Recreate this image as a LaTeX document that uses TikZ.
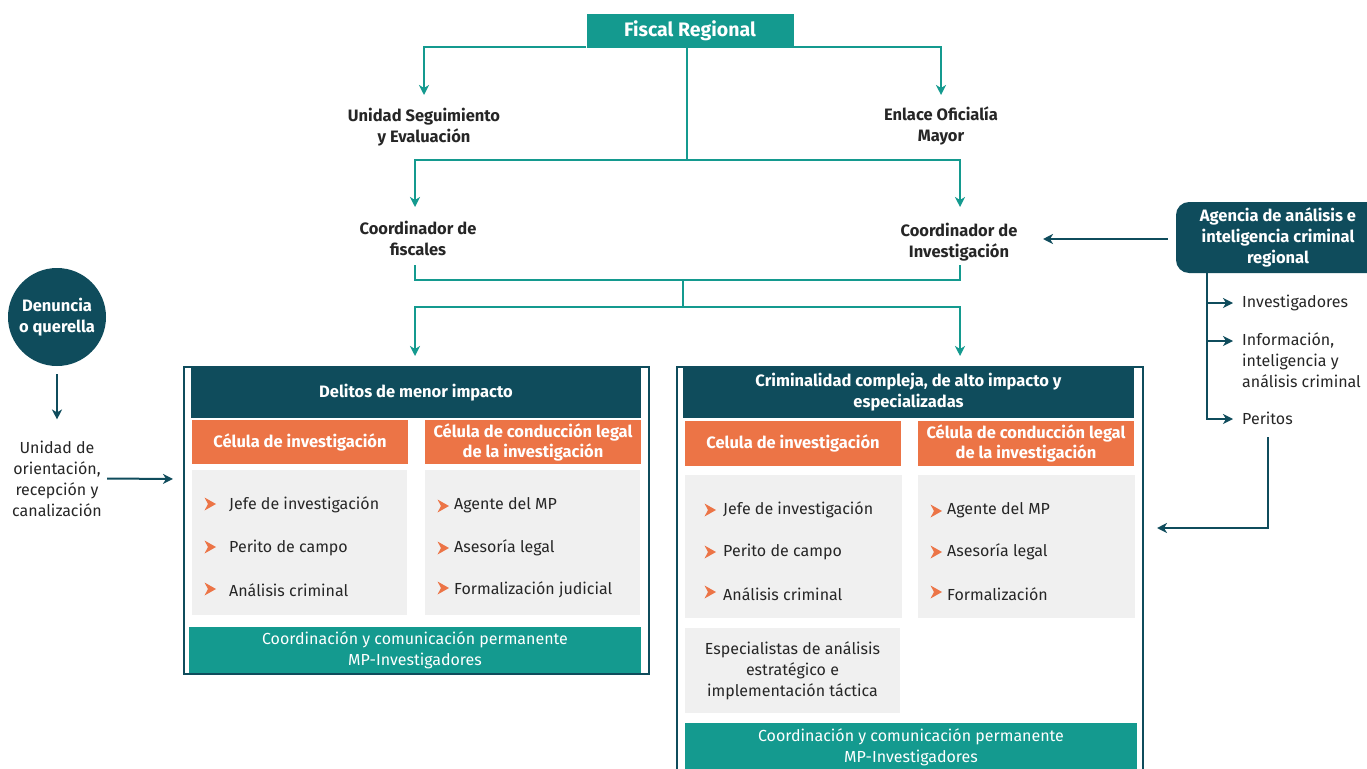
\documentclass[tikz,border=0pt]{standalone}
\usepackage{fontspec}
\setmainfont{Fira Sans}
\usetikzlibrary{arrows.meta,calc}
\definecolor{dteal}{HTML}{0F4C5C}
\definecolor{tealc}{HTML}{149A8F}
\definecolor{orangec}{HTML}{EC7446}
\definecolor{grayp}{HTML}{F0F0F0}
\definecolor{txt}{HTML}{262626}
\begin{document}
\begin{tikzpicture}[x=1pt,y=-1pt,
  lbl/.style={font=\bfseries\fontsize{16.5}{21}\selectfont, align=center, text=txt, inner sep=0pt},
  reg/.style={font=\fontsize{16}{21}\selectfont, text=txt, inner sep=0pt},
  conn/.style={draw=tealc, line width=2pt},
  arr/.style={conn, -{Stealth[length=10pt,width=10pt,inset=3pt]}},
  darr/.style={draw=dteal, line width=2pt, -{Stealth[length=10pt,width=10pt,inset=3pt]}},
  dline/.style={draw=dteal, line width=2pt},
  titlebar/.style={fill=dteal, text=white, font=\bfseries\fontsize{16.5}{21}\selectfont, align=center, inner sep=0pt},
  orangebox/.style={fill=orangec, text=white, font=\bfseries\fontsize{16.5}{20}\selectfont, align=center, inner sep=0pt, minimum width=216pt, minimum height=44pt},
  graypanel/.style={fill=grayp, inner sep=0pt},
  tealbar/.style={fill=tealc, text=white, font=\fontsize{16}{21}\selectfont, align=center, inner sep=0pt},
  bulletpic/.pic={\fill[orangec] (-5.5,-6.5) -- (6,0) -- (-5.5,6.5) -- (-2,0) -- cycle;}
]
\useasboundingbox (0,0) rectangle (1367,768);
\fill[white] (0,0) rectangle (1367,768);

% ---------- top tree ----------
\node[fill=tealc, text=white, font=\bfseries\fontsize{19.5}{22}\selectfont, minimum width=207pt, minimum height=34pt, inner sep=0pt] (fr) at (690,31) {Fiscal Regional};
\node[lbl] (use) at (424,127.5) {Unidad Seguimiento\\y Evaluación};
\node[lbl] (eom) at (941,125.5) {Enlace Oficialía\\Mayor};
\coordinate (j1) at (687,160);
\node[lbl] (cf) at (418,238.5) {Coordinador de\\fiscales};
\node[lbl] (ci) at (959,242) {Coordinador de\\Investigación};
\coordinate (j2) at (683,280);
\coordinate (j3) at (683,307);

\draw[arr] ($(fr.south west)+(0,-1)$) -| (424,95);
\draw[arr] ($(fr.south east)+(0,-1)$) -| (941,95);
\draw[conn] (fr.south -| j1) -- (j1);
\draw[conn] (415,160) -- (960,160);
\draw[arr] (415,159) -- (415,207);
\draw[arr] (960,159) -- (960,207);
\draw[conn] (415,265) |- (j2) -| (960,265);
\draw[conn] (j2) -- (j3);
\draw[conn] (415,307) -- (960,307);
\draw[arr] (415,306) -- (415,356);
\draw[arr] (960,306) -- (960,356);

% ---------- left box ----------
\draw[dteal, line width=2pt] (184,367) rectangle (649,674);
\node[titlebar, minimum width=450pt, minimum height=50pt] (t1) at (416,392.5) {Delitos de menor impacto};
\node[orangebox] (o11) at (300,442) {Célula de investigación};
\node[orangebox] (o12) at (533,442) {Célula de conducción legal\\de la investigación};
\node[graypanel, minimum width=215pt, minimum height=145pt] (g11) at (299.5,542.5) {};
\node[graypanel, minimum width=215pt, minimum height=145pt] (g12) at (532.5,542.5) {};
\node[tealbar, minimum width=452pt, minimum height=46pt] (b1) at (415,650) {Coordinación y comunicación permanente\\MP-Investigadores};

\pic at (210,504) {bulletpic};
\pic at (210,547) {bulletpic};
\pic at (210,589) {bulletpic};
\node[reg, anchor=west] (l1) at (229,505) {Jefe de investigación};
\node[reg, anchor=west] (l2) at (229,548) {Perito de campo};
\node[reg, anchor=west] (l3) at (229,590) {Análisis criminal};
\pic at (443,506) {bulletpic};
\pic at (443,548) {bulletpic};
\pic at (443,588) {bulletpic};
\node[reg, anchor=west] (r1) at (454,505) {Agente del MP};
\node[reg, anchor=west] (r2) at (454,548) {Asesoría legal};
\node[reg, anchor=west] (r3) at (454,590) {Formalización judicial};

% ---------- right box ----------
\draw[dteal, line width=2pt] (677,367) rectangle (1143,790);
\node[titlebar, minimum width=451pt, minimum height=51pt] (t2) at (908.5,392.5) {Criminalidad compleja, de alto impacto y\\especializadas};
\node[orangebox, minimum height=45pt] (o21) at (793,443.5) {Celula de investigación};
\node[orangebox, minimum height=45pt] (o22) at (1026,443.5) {Célula de conducción legal\\de la investigación};
\node[graypanel, minimum width=217pt, minimum height=143pt] (g21) at (793.5,546.5) {};
\node[graypanel, minimum width=217pt, minimum height=143pt] (g22) at (1026.5,546.5) {};
\node[graypanel, minimum width=215pt, minimum height=85pt, text=txt, font=\fontsize{16}{21}\selectfont, align=center] (sp) at (792.5,670.5) {Especialistas de análisis\\estratégico e\\implementación táctica};
\fill[tealc] (685,723) rectangle (1137,790);
\node[tealbar] (b2) at (911,747.5) {Coordinación y comunicación permanente\\MP-Investigadores};

\pic at (710,510) {bulletpic};
\pic at (710,552) {bulletpic};
\pic at (710,592) {bulletpic};
\node[reg, anchor=west] (l4) at (723,510) {Jefe de investigación};
\node[reg, anchor=west] (l5) at (723,552) {Perito de campo};
\node[reg, anchor=west] (l6) at (723,594) {Análisis criminal};
\pic at (936,511) {bulletpic};
\pic at (936,552) {bulletpic};
\pic at (936,592) {bulletpic};
\node[reg, anchor=west] (r4) at (947,510) {Agente del MP};
\node[reg, anchor=west] (r5) at (947,552) {Asesoría legal};
\node[reg, anchor=west] (r6) at (947,594) {Formalización};

% ---------- left side ----------
\node[circle, fill=dteal, minimum size=98pt, inner sep=0pt, text=white, font=\bfseries\fontsize{16.5}{21}\selectfont, align=center] (den) at (57,317) {Denuncia\\o querella};
\node[reg, align=center] (uor) at (57,478.5) {Unidad de\\orientación,\\recepción y\\canalización};
\draw[darr] ($(den.south)+(0,8)$) -- ($(uor.north)+(0,-21)$);
\draw[darr] ($(uor.east)+(5,0)$) -- (173,479);

% ---------- agency ----------
\node[fill=dteal, rounded corners=13pt, minimum width=204pt, minimum height=71pt, text=white, font=\bfseries\fontsize{16.5}{21}\selectfont, align=center, inner sep=0pt] (ag) at (1278,237.5) {Agencia de análisis e\\inteligencia criminal\\regional};
\draw[darr] ($(ag.west)+(-8,1.5)$) -- (1043,239);
\node[reg, anchor=west] (ai1) at (1242,303) {Investigadores};
\node[reg, anchor=west, align=left] (ai2) at (1242,360.5) {Información,\\inteligencia y\\análisis criminal};
\node[reg, anchor=west] (ai3) at (1242,418) {Peritos};
\coordinate (av) at (1207,273);
\draw[dline] (av) -- (1207,419);
\draw[darr] (1206,303) -- (1233,303);
\draw[darr] (1206,341) -- (1233,341);
\draw[darr] (1206,419) -- (1233,419);
\draw[darr] (1268,437) |- (1157,528);
\end{tikzpicture}
\end{document}
